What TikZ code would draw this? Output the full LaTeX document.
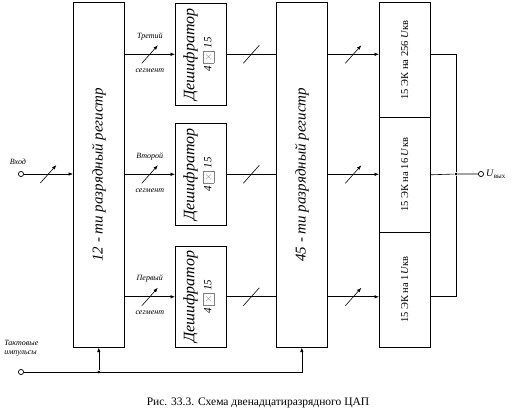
\documentclass[tikz,border=0pt]{standalone}
\usepackage{fontspec}
\setmainfont{Liberation Serif}
\usetikzlibrary{positioning,arrows.meta}

\begin{document}
\begin{tikzpicture}[x=1pt, y=-1pt, line width=0.6pt,
  blok/.style={draw, inner sep=0pt, anchor=north west, minimum width=51pt},
  nadpis/.style={rotate=90, font=\fontsize{15}{17}\selectfont\itshape},
  dacnadpis/.style={rotate=90, font=\fontsize{10.5}{12}\selectfont},
  strelka/.style={-{Latex[length=4.5pt,width=3.5pt]}},
  shina/.pic={\draw (-8pt,-9pt) -- (8pt,9pt);},
  metka/.style={font=\fontsize{8}{9}\selectfont\itshape, inner sep=1pt},
  vyvod/.style={circle, draw, fill=white, inner sep=0pt, minimum size=5pt},
  uzel/.style={circle, fill, inner sep=0pt, minimum size=3pt}
]
\useasboundingbox (0,0) rectangle (517,414);

% registers
\node[blok, minimum height=345pt] (reg12) at (73,2) {};
\node[nadpis] at (reg12.center) {12 - ти разрядный регистр};
\node[blok, minimum height=345pt] (reg45) at (276,2) {};
\node[nadpis] at (reg45.center) {45 - ти разрядный регистр};

% decoders
\node[blok, minimum height=102pt] (dec3) at (175,3) {};
\node[blok, minimum height=102pt] (dec2) at (175,123) {};
\node[blok, minimum height=101pt] (dec1) at (175,246) {};
\foreach \d in {dec3,dec2,dec1}
  \node[rotate=90, align=center, font=\itshape] at ([xshift=-2pt]\d.center)
    {{\fontsize{16}{18}\selectfont Дешифратор}\\[5pt]
     {\fontsize{11}{12}\selectfont 4 {\fboxsep=1.5pt\fcolorbox{gray}{white}{\color{gray}$\times$}} 15}};

% DAC sections
\node[blok, minimum height=115pt] (dac1) at (379,2) {};
\node[dacnadpis] at (dac1.center) {15 ЭК на 256 \textit{U}кв};
\node[blok, minimum height=115pt] (dac2) at (379,117) {};
\node[dacnadpis] at (dac2.center) {15 ЭК на 16 \textit{U}кв};
\node[blok, minimum height=115pt] (dac3) at (379,232) {};
\node[dacnadpis] at (dac3.center) {15 ЭК на 1\textit{U}кв};

% input and clock
\node[vyvod] (vhod) at (21,174) {};
\node[metka, above=5pt of vhod, xshift=-3pt] (lvhod) {Вход};
\node[vyvod] (takt) at (21,372) {};
\node[metka, align=left, anchor=south west] (ltakt) at (3,358) {Тактовые\\импульсы};

\draw[strelka] (vhod) -- pic{shina} (reg12.west |- vhod);

% segments
\draw[strelka] (reg12.east |- dec3.west) -- pic{shina}
  node[metka, above=13pt]{Третий} node[metka, below=13pt]{сегмент} (dec3.west);
\draw[strelka] (reg12.east |- dec2.west) -- pic{shina}
  node[metka, above=13pt]{Второй} node[metka, below=13pt]{сегмент} (dec2.west);
\draw[strelka] (reg12.east |- dec1.west) -- pic{shina}
  node[metka, above=13pt]{Первый} node[metka, below=13pt]{сегмент} (dec1.west);

\draw (dec3.east) -- pic{shina} (reg45.west |- dec3.east);
\draw (dec2.east) -- pic{shina} (reg45.west |- dec2.east);
\draw (dec1.east) -- pic{shina} (reg45.west |- dec1.east);

\draw[strelka] (reg45.east |- dec3.east) -- pic{shina} (dac1.west |- dec3.east);
\draw[strelka] (reg45.east |- dec2.east) -- pic{shina} (dac2.west |- dec2.east);
\draw[strelka] (reg45.east |- dec1.east) -- pic{shina} (dac3.west |- dec1.east);

% summing output
\node[uzel] (sum) at (456,174) {};
\node[vyvod] (vyhod) at (481,174) {};
\node[anchor=west, font=\fontsize{10}{11}\selectfont, inner sep=2pt] (lvyhod) at (vyhod.east)
  {\textit{U}\textsubscript{вых}};
\draw (dac1.east |- dec3.east) -| (sum);
\draw (dac3.east |- dec1.east) -| (sum);
\draw (dac2.east) -- (sum) -- (vyhod);

% clock lines
\node[uzel] (tochka) at (reg12.south |- takt) {};
\draw[strelka] (takt) -| (reg45.south);
\draw[strelka] (tochka) -- (reg12.south);
\node[vyvod] at (takt) {};
\node[vyvod] at (vhod) {};
\node[vyvod] at (vyhod) {};

\node[font=\fontsize{11.5}{13}\selectfont] (podpis) at (258,403)
  {Рис. 33.3. Схема двенадцатиразрядного ЦАП};
\end{tikzpicture}
\end{document}
